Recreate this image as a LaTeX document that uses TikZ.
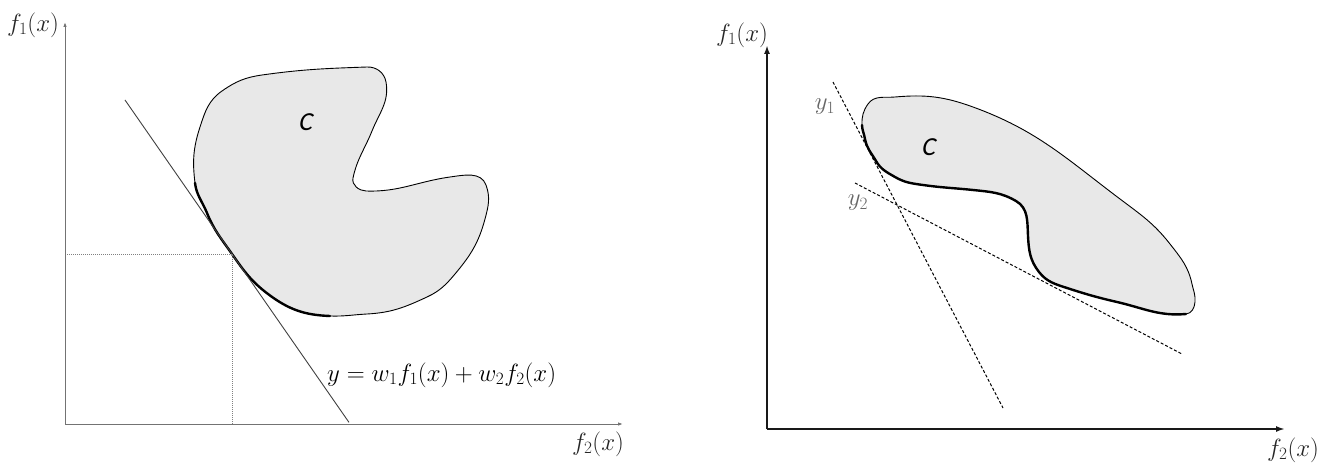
\documentclass[tikz,border=0pt]{standalone}
\usepackage{fontspec}
\newfontfamily\cfont[FakeSlant=0.2]{Carlito}
\usetikzlibrary{arrows.meta}
\newcommand\axisfont{\fontsize{23}{27}\selectfont}
\tikzset{
  axisL/.style={draw=black!55, line width=1pt, -{Latex[length=5pt,width=3.5pt]}},
  axisR/.style={draw=black!90, line width=1.8pt, -{Latex[length=9pt,width=6pt]}},
  region/.style={fill=black!9, draw=black, line width=0.9pt, line join=round},
  front/.style={draw=black, line width=2.4pt, line cap=round, line join=round},
  tangent/.style={draw=black!75, line width=0.9pt},
  guide/.style={draw=black!50, line width=1pt, densely dotted},
  weightline/.style={draw=black, line width=1pt, dash pattern=on 3pt off 2pt},
  lab/.style={font=\axisfont, text=black!85, inner sep=0pt},
  ylab/.style={font=\axisfont, text=black!60, inner sep=0pt},
  clab/.style={font=\cfont\fontsize{26}{30}\selectfont, inner sep=0pt},
}
\begin{document}
\begin{tikzpicture}[x=1pt,y=1pt]
\useasboundingbox (0,0) rectangle (1330,464);

% ---------------- left diagram ----------------
\coordinate (OL) at (65,40);
\coordinate (YL) at (65,442);
\coordinate (XL) at (623,40);
\coordinate (L1) at (195,281);
\coordinate (L2) at (200,337);
\coordinate (L3) at (222,373);
\coordinate (L4) at (262,389);
\coordinate (L5) at (367,397);
\coordinate (L6) at (386,382);
\coordinate (L7) at (372,333);
\coordinate (L8) at (353,286);
\coordinate (L9) at (366,273);
\coordinate (L10) at (450,287);
\coordinate (L11) at (486,279);
\coordinate (L12) at (485,245);
\coordinate (L13) at (455,190);
\coordinate (L14) at (427,167);
\coordinate (L15) at (367,150);
\coordinate (L16) at (330,148);
\coordinate (L17) at (268,170);
\coordinate (L18) at (232,210);
\coordinate (L19) at (207,251);
\coordinate (TA) at (125,364);
\coordinate (TB) at (349,41.6);
\coordinate (HL) at (65,210);
\coordinate (VL) at (232,40);

\path[region] (L1) to[out=97,in=252] (L2) to[out=72,in=215] (L3)
  to[out=35,in=188] (L4) to[out=8,in=182] (L5) to[out=2,in=100] (L6)
  to[out=-80,in=68] (L7) to[out=-112,in=78] (L8) to[out=-102,in=178] (L9)
  to[out=-2,in=188] (L10) to[out=8,in=110] (L11) to[out=-70,in=75] (L12)
  to[out=-105,in=50] (L13) to[out=-130,in=25] (L14) to[out=-155,in=3] (L15)
  to[out=-177,in=-2] (L16) to[out=178,in=-37] (L17) to[out=143,in=-55] (L18)
  to[out=125,in=-68] (L19) to[out=112,in=-83] (L1) -- cycle;
\path[front] (L16) to[out=178,in=-37] (L17) to[out=143,in=-55] (L18)
  to[out=125,in=-68] (L19) to[out=112,in=-83] (L1);

\draw[tangent] (TA) -- (TB);
\draw[guide] (HL) -- (L18) -- (VL);
\draw[axisL] (OL) -- (YL);
\draw[axisL] (OL) -- (XL);

\node[lab] (f1L) at (33,439) {$f_1(x)$};
\node[lab] (f2L) at (598,20) {$f_2(x)$};
\node[clab] (CL) at (305,342) {C};
\node[anchor=west, inner sep=0pt, font=\fontsize{24}{28}\selectfont] (eqL) at (327,89)
  {$y = w_1 f_1(x) + w_2 f_2(x)$};

% ---------------- right diagram ----------------
\coordinate (OR) at (767,35);
\coordinate (YR) at (767,419);
\coordinate (XR) at (1285,35);
\coordinate (R1) at (862,339);
\coordinate (R2) at (868,360);
\coordinate (R3) at (895,367);
\coordinate (R4) at (973,357);
\coordinate (R6) at (1120,265);
\coordinate (R7) at (1170,220);
\coordinate (R8) at (1192,180);
\coordinate (R9) at (1195,162);
\coordinate (R10) at (1186,150);
\coordinate (R11) at (1117,162);
\coordinate (R12) at (1067,176);
\coordinate (R13) at (1039,192);
\coordinate (R14) at (1028,228);
\coordinate (R15) at (1016,263);
\coordinate (R16) at (973,274);
\coordinate (R17) at (923,279);
\coordinate (R18) at (895,287);
\coordinate (R19) at (876,303);
\coordinate (R20) at (865,325);
\coordinate (Y1a) at (833,382);
\coordinate (Y1b) at (1003,56);
\coordinate (Y2a) at (855,281);
\coordinate (Y2b) at (1182,110);

\path[region] (R1) to[out=92,in=235] (R2) to[out=55,in=185] (R3)
  to[out=5,in=160] (R4) to[out=-20,in=143] (R6)
  to[out=-37,in=128] (R7) to[out=-52,in=102] (R8) to[out=-78,in=85] (R9)
  to[out=-95,in=5] (R10) to[out=185,in=-13] (R11) to[out=167,in=-18] (R12)
  to[out=162,in=-52] (R13) to[out=128,in=-87] (R14) to[out=93,in=-30] (R15)
  to[out=150,in=-6] (R16) to[out=174,in=-8] (R17) to[out=172,in=-30] (R18)
  to[out=150,in=-60] (R19) to[out=120,in=-80] (R20) to[out=100,in=-88] (R1) -- cycle;
\path[front] (R10) to[out=185,in=-13] (R11) to[out=167,in=-18] (R12)
  to[out=162,in=-52] (R13) to[out=128,in=-87] (R14) to[out=93,in=-30] (R15)
  to[out=150,in=-6] (R16) to[out=174,in=-8] (R17) to[out=172,in=-30] (R18)
  to[out=150,in=-60] (R19) to[out=120,in=-80] (R20) to[out=100,in=-88] (R1);

\draw[weightline] (Y1a) -- (Y1b);
\draw[weightline] (Y2a) -- (Y2b);
\draw[axisR] (OR) -- (YR);
\draw[axisR] (OR) -- (XR);

\node[lab] (f1R) at (742,429) {$f_1(x)$};
\node[lab] (f2R) at (1293,14) {$f_2(x)$};
\node[ylab] (y1R) at (825,357) {$y_1$};
\node[ylab] (y2R) at (858,261) {$y_2$};
\node[clab] (CR) at (928,317) {C};
\end{tikzpicture}
\end{document}
